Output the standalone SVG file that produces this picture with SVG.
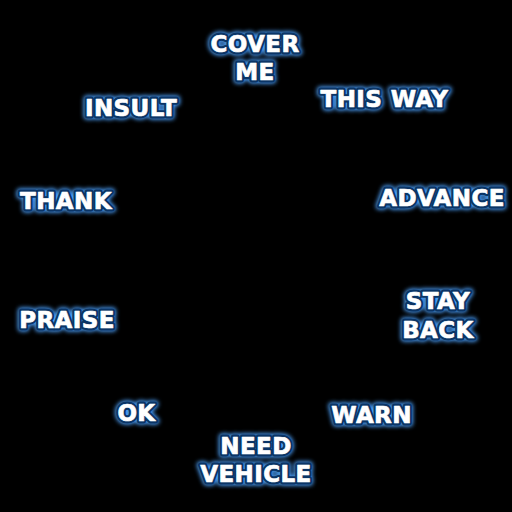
<svg xmlns="http://www.w3.org/2000/svg" width="512" height="512" viewBox="0 0 512 512">
<defs>
<filter id="glow" x="-20%" y="-50%" width="140%" height="200%">
<feGaussianBlur stdDeviation="2"/>
</filter>
<style>
text{font-family:"DejaVu Sans","Liberation Sans",sans-serif;font-weight:bold;font-size:23px;letter-spacing:0.4px;text-anchor:middle}
.g{fill:#4da3ff;stroke:#4da3ff;stroke-width:7;stroke-linejoin:round;filter:url(#glow)}
.o{fill:#0b3566;stroke:#0b3566;stroke-width:5;stroke-linejoin:round}
.t{fill:#ffffff;stroke:#ffffff;stroke-width:0.7;stroke-linejoin:round}
</style>
</defs>
<rect width="512" height="512" fill="#000"/>
<g id="cover-me"><text class="g" x="255" y="52">COVER</text><text class="g" x="255" y="80">ME</text><text class="o" x="255" y="52">COVER</text><text class="o" x="255" y="80">ME</text><text class="t" x="255" y="52">COVER</text><text class="t" x="255" y="80">ME</text></g>
<g id="insult"><text class="g" x="131" y="116">INSULT</text><text class="o" x="131" y="116">INSULT</text><text class="t" x="131" y="116">INSULT</text></g>
<g id="this-way"><text class="g" x="384.5" y="107">THIS WAY</text><text class="o" x="384.5" y="107">THIS WAY</text><text class="t" x="384.5" y="107">THIS WAY</text></g>
<g id="thank"><text class="g" x="66" y="209">THANK</text><text class="o" x="66" y="209">THANK</text><text class="t" x="66" y="209">THANK</text></g>
<g id="advance"><text class="g" x="442" y="206">ADVANCE</text><text class="o" x="442" y="206">ADVANCE</text><text class="t" x="442" y="206">ADVANCE</text></g>
<g id="praise"><text class="g" x="67" y="328">PRAISE</text><text class="o" x="67" y="328">PRAISE</text><text class="t" x="67" y="328">PRAISE</text></g>
<g id="stay-back"><text class="g" x="438" y="309">STAY</text><text class="g" x="438" y="338">BACK</text><text class="o" x="438" y="309">STAY</text><text class="o" x="438" y="338">BACK</text><text class="t" x="438" y="309">STAY</text><text class="t" x="438" y="338">BACK</text></g>
<g id="ok"><text class="g" x="136.5" y="421">OK</text><text class="o" x="136.5" y="421">OK</text><text class="t" x="136.5" y="421">OK</text></g>
<g id="warn"><text class="g" x="371.5" y="423">WARN</text><text class="o" x="371.5" y="423">WARN</text><text class="t" x="371.5" y="423">WARN</text></g>
<g id="need-vehicle"><text class="g" x="256" y="454">NEED</text><text class="g" x="256" y="482">VEHICLE</text><text class="o" x="256" y="454">NEED</text><text class="o" x="256" y="482">VEHICLE</text><text class="t" x="256" y="454">NEED</text><text class="t" x="256" y="482">VEHICLE</text></g>
</svg>
